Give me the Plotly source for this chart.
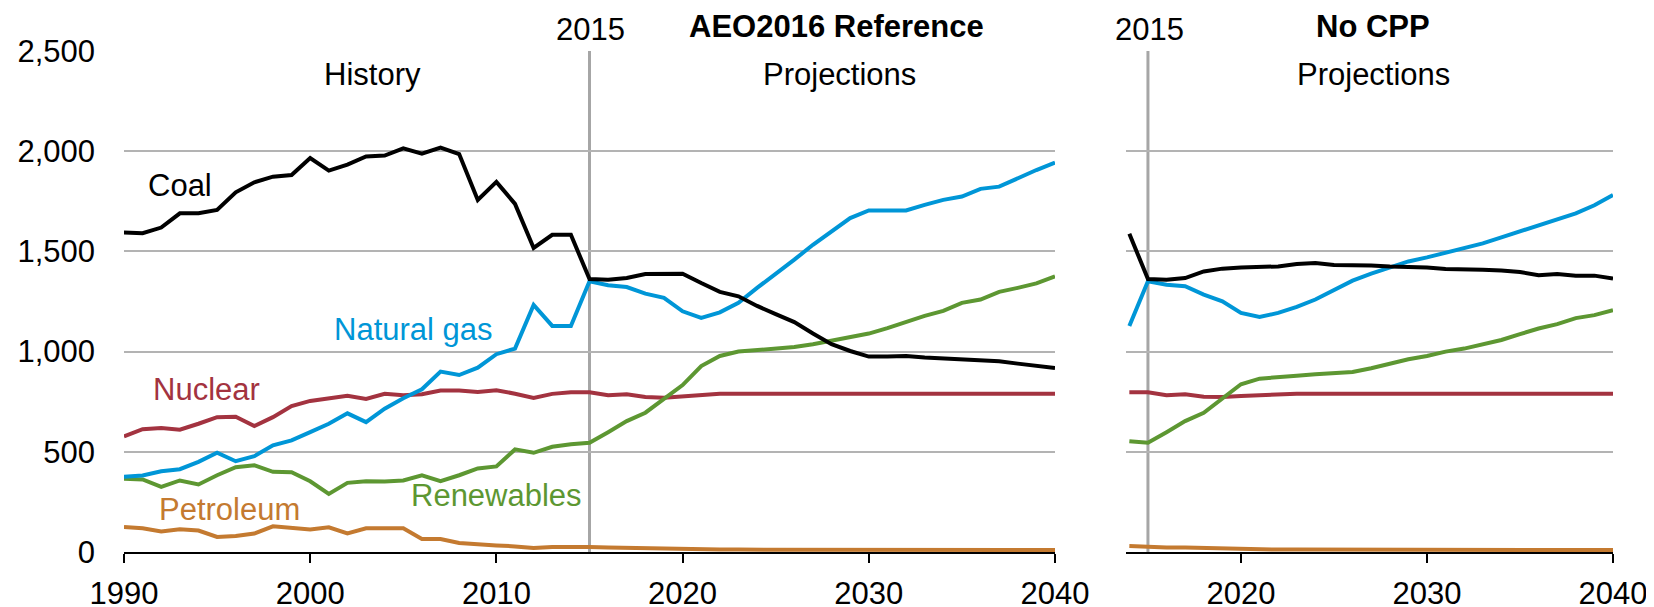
import plotly.graph_objects as go

# ---------------- data (billion kWh) ----------------
hist_years = list(range(1990, 2016))
proj_years = list(range(2015, 2041))
nocpp_years = list(range(2014, 2041))

coal_hist = [1594, 1591, 1619, 1690, 1690, 1707, 1795, 1845, 1873, 1881, 1966, 1903, 1933,
             1974, 1978, 2014, 1988, 2018, 1986, 1757, 1847, 1737, 1517, 1583, 1583, 1362]
gas_hist = [375, 382, 403, 413, 450, 495, 453, 478, 532, 557, 598, 640, 692, 648, 715, 767,
            812, 900, 883, 920, 987, 1015, 1233, 1128, 1128, 1351]
nuclear_hist = [577, 613, 619, 610, 640, 673, 675, 629, 673, 728, 754, 769, 780, 764, 789,
                782, 787, 806, 806, 799, 807, 790, 769, 789, 797, 797]
renew_hist = [365, 362, 325, 357, 337, 383, 423, 433, 400, 398, 353, 290, 345, 353, 352, 357,
              383, 353, 383, 417, 427, 512, 495, 525, 538, 545]
petro_hist = [125, 118, 102, 113, 107, 75, 80, 92, 128, 118, 112, 123, 93, 118, 118, 118, 65,
              65, 45, 37, 33, 28, 20, 25, 27, 25]

# AEO2016 Reference projections, 2015-2040
coal_ref = [1362, 1359, 1367, 1387, 1389, 1389, 1342, 1298, 1276, 1228, 1187, 1147, 1090,
            1037, 1003, 975, 975, 978, 970, 965, 962, 953, 952, 940, 928, 918]
gas_ref = [1351, 1331, 1322, 1289, 1268, 1201, 1168, 1196, 1243, 1318, 1387, 1459, 1533, 1600,
           1666, 1704, 1704, 1704, 1732, 1757, 1774, 1812, 1823, 1865, 1906, 1943]
nuclear_ref = [797, 782, 787, 773, 770, 778, 787, 790, 790, 790, 790, 790, 790, 790, 790, 790,
               790, 790, 790, 790, 790, 790, 790, 790, 790, 790]
renew_ref = [545, 598, 653, 695, 765, 833, 928, 978, 1000, 1008, 1015, 1023, 1037, 1053, 1070,
             1090, 1117, 1150, 1178, 1203, 1243, 1260, 1298, 1318, 1340, 1376]
petro_ref = [25, 23, 21, 19, 13, 12, 12, 12, 12, 12, 11, 11, 11, 11, 11, 11, 11, 11, 11, 10,
             10, 10, 10, 10, 10, 10]

# No CPP projections, 2014-2040
coal_nocpp = [1588, 1362, 1359, 1367, 1400, 1414, 1420, 1420, 1425, 1437, 1442, 1432, 1432,
              1430, 1425, 1425, 1420, 1412, 1412, 1409, 1405, 1397, 1381, 1387, 1379, 1379, 1364]
gas_nocpp = [1128, 1351, 1334, 1326, 1284, 1251, 1193, 1173, 1193, 1223, 1260, 1309, 1354,
             1389, 1417, 1450, 1470, 1492, 1515, 1540, 1570, 1600, 1635, 1660, 1690, 1730, 1782]
nuclear_nocpp = [797, 797, 782, 787, 775, 773, 778, 783, 790, 790, 790, 790, 790, 790, 790,
                 790, 790, 790, 790, 790, 790, 790, 790, 790, 790, 790, 790]
renew_nocpp = [553, 545, 598, 653, 695, 765, 837, 865, 875, 880, 887, 892, 898, 917, 940, 962,
               978, 1000, 1015, 1037, 1058, 1087, 1115, 1137, 1167, 1182, 1207]
petro_nocpp = [30, 25, 23, 22, 20, 13, 12, 12, 12, 12, 12, 12, 12, 11, 11, 11, 11, 11, 11, 11,
               11, 10, 10, 10, 10, 10, 10]

y_ticks = [0, 500, 1000, 1500, 2000, 2500]
x_ticks_left = [1990, 2000, 2010, 2020, 2030, 2040]
x_ticks_right = [2020, 2030, 2040]

# ---------------- styles ----------------
C_COAL = "#000000"
C_GAS = "#0096d7"
C_NUC = "#a33340"
C_REN = "#5d9732"
C_PET = "#c47a30"
GRID = "#b3b3b3"
FONT = "Arial, Liberation Sans, sans-serif"
FS = 31
LW = 4

fig = go.Figure()

def add_series(xs, ys, color, xa, ya):
    fig.add_trace(go.Scatter(x=xs, y=ys, mode="lines", line=dict(color=color, width=LW),
                             xaxis=xa, yaxis=ya, showlegend=False, hoverinfo="skip",
                             cliponaxis=False))

left_x = hist_years + proj_years[1:]
for h, p, c in [(petro_hist, petro_ref, C_PET), (nuclear_hist, nuclear_ref, C_NUC),
                (renew_hist, renew_ref, C_REN), (gas_hist, gas_ref, C_GAS),
                (coal_hist, coal_ref, C_COAL)]:
    add_series(left_x, h + p[1:], c, "x", "y")

for s, c in [(petro_nocpp, C_PET), (nuclear_nocpp, C_NUC), (renew_nocpp, C_REN),
             (gas_nocpp, C_GAS), (coal_nocpp, C_COAL)]:
    add_series(nocpp_years, s, c, "x2", "y2")

axis_common = dict(showline=True, linecolor="black", linewidth=2, ticks="outside",
                   ticklen=9, tickwidth=2, tickcolor="black", showgrid=False, zeroline=False,
                   tickfont=dict(family=FONT, size=FS, color="black"), ticklabelstandoff=4,
                   automargin=False)

fig.update_layout(
    width=1646, height=599,
    margin=dict(l=0, r=0, t=43, b=54.5, autoexpand=False),
    plot_bgcolor="white", paper_bgcolor="white",
    font=dict(family=FONT, size=FS, color="black"),
    xaxis=dict(domain=[0.07047, 0.63609], range=[1990, 2040], tickvals=x_ticks_left,
               **axis_common),
    xaxis2=dict(domain=[0.67922, 0.97509], range=[2013.82, 2040], tickvals=x_ticks_right,
                anchor="y2", **axis_common),
    yaxis=dict(range=[0, 2500], tickvals=y_ticks, tickformat=",", showgrid=True,
               gridcolor=GRID, gridwidth=2, zeroline=False, showline=False, ticks="",
               tickfont=dict(family=FONT, size=FS, color="black"), ticklabelstandoff=28,
               automargin=False),
    yaxis2=dict(range=[0, 2500], tickvals=y_ticks, showgrid=True, gridcolor=GRID, gridwidth=2,
                zeroline=False, showline=False, showticklabels=False, ticks="",
                anchor="x2", automargin=False),
)

# 2015 dividers
for xa in ["x", "x2"]:
    fig.add_shape(type="line", xref=xa, yref="y", x0=2015, x1=2015, y0=0, y1=2500,
                  line=dict(color="#a6a6a6", width=3), layer="below")

def label(text, x, y, color="black", xref="x", yref="y", bold=False):
    fig.add_annotation(text=f"<b>{text}</b>" if bold else text, x=x, y=y, xref=xref, yref=yref,
                       showarrow=False, xanchor="center", yanchor="middle",
                       font=dict(family=FONT, size=FS, color=color))

label("Coal", 1993.03, 1828)
label("History", 2003.35, 2384)
label("Projections", 2028.42, 2384)
label("Natural gas", 2005.56, 1108, C_GAS)
label("Nuclear", 1994.45, 809, C_NUC)
label("Petroleum", 1995.64, 210, C_PET)
label("Renewables", 2009.99, 284, C_REN)
label("2015", 2015.03, 1.0439, yref="paper")
label("AEO2016 Reference", 2028.25, 1.0499, yref="paper", bold=True)
label("2015", 2015.1, 1.0439, xref="x2", yref="paper")
label("No CPP", 2027.1, 1.0499, xref="x2", yref="paper", bold=True)
label("Projections", 2027.1, 2384, xref="x2")

fig.write_html("out.html")
